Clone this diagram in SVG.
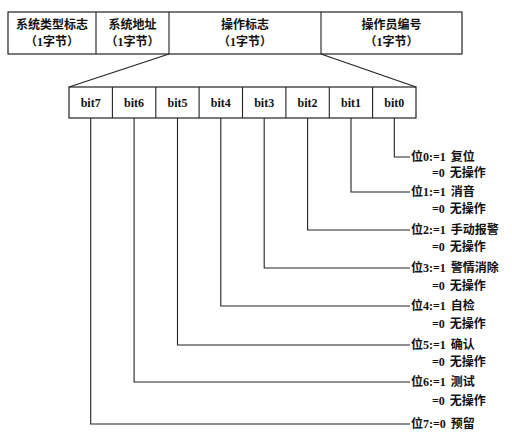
<svg xmlns="http://www.w3.org/2000/svg" width="512" height="440" viewBox="0 0 512 440">
<style>
.box{fill:#fff;stroke:#222;stroke-width:1.2}
.ln{fill:none;stroke:#222;stroke-width:1.1}
text{font-family:"Liberation Serif","Noto Sans CJK SC",serif;font-size:12px;font-weight:bold;fill:#111}
.c{text-anchor:middle}
</style>
<rect width="512" height="440" fill="#fff"/>
<g id="header">
<rect class="box" x="8" y="12" width="454" height="42"/>
<line class="ln" x1="96" y1="12" x2="96" y2="54"/>
<line class="ln" x1="169" y1="12" x2="169" y2="54"/>
<line class="ln" x1="321" y1="12" x2="321" y2="54"/>
</g>
<g id="f1"><text class="c" x="52" y="29">系统类型标志</text><text class="c" x="52" y="46">（1字节）</text></g>
<g id="f2"><text class="c" x="132.5" y="29">系统地址</text><text class="c" x="132.5" y="46">（1字节）</text></g>
<g id="f3"><text class="c" x="245" y="29">操作标志</text><text class="c" x="245" y="46">（1字节）</text></g>
<g id="f4"><text class="c" x="391.5" y="29">操作员编号</text><text class="c" x="391.5" y="46">（1字节）</text></g>
<g id="bits">
<rect class="box" x="69" y="87" width="347" height="31"/>
<line class="ln" x1="112.4" y1="87" x2="112.4" y2="118"/>
<line class="ln" x1="155.8" y1="87" x2="155.8" y2="118"/>
<line class="ln" x1="199.1" y1="87" x2="199.1" y2="118"/>
<line class="ln" x1="242.5" y1="87" x2="242.5" y2="118"/>
<line class="ln" x1="285.9" y1="87" x2="285.9" y2="118"/>
<line class="ln" x1="329.3" y1="87" x2="329.3" y2="118"/>
<line class="ln" x1="372.6" y1="87" x2="372.6" y2="118"/>
<text class="c" x="90.7" y="107">bit7</text>
<text class="c" x="134.1" y="107">bit6</text>
<text class="c" x="177.5" y="107">bit5</text>
<text class="c" x="220.8" y="107">bit4</text>
<text class="c" x="264.2" y="107">bit3</text>
<text class="c" x="307.6" y="107">bit2</text>
<text class="c" x="351" y="107">bit1</text>
<text class="c" x="394.3" y="107">bit0</text>
</g>
<g id="connectors">
<line class="ln" x1="169" y1="54" x2="69" y2="87"/>
<line class="ln" x1="321" y1="54" x2="416" y2="87"/>
<polyline class="ln" points="394.3,118 394.3,157 410,157"/>
<polyline class="ln" points="351,118 351,192 410,192"/>
<polyline class="ln" points="307.6,118 307.6,230 410,230"/>
<polyline class="ln" points="264.2,118 264.2,268 410,268"/>
<polyline class="ln" points="220.8,118 220.8,306 410,306"/>
<polyline class="ln" points="177.5,118 177.5,345 410,345"/>
<polyline class="ln" points="134.1,118 134.1,382 410,382"/>
<polyline class="ln" points="90.7,118 90.7,424 410,424"/>
</g>
<g id="labels">
<text x="411" y="161">位0:=1 <tspan dx="2">复位</tspan></text><text x="432" y="177">=0 <tspan dx="2">无操作</tspan></text>
<text x="411" y="196">位1:=1 <tspan dx="2">消音</tspan></text><text x="432" y="213">=0 <tspan dx="2">无操作</tspan></text>
<text x="411" y="234">位2:=1 <tspan dx="2">手动报警</tspan></text><text x="432" y="251">=0 <tspan dx="2">无操作</tspan></text>
<text x="411" y="272">位3:=1 <tspan dx="2">警情消除</tspan></text><text x="432" y="290">=0 <tspan dx="2">无操作</tspan></text>
<text x="411" y="310">位4:=1 <tspan dx="2">自检</tspan></text><text x="432" y="328">=0 <tspan dx="2">无操作</tspan></text>
<text x="411" y="349">位5:=1 <tspan dx="2">确认</tspan></text><text x="432" y="366">=0 <tspan dx="2">无操作</tspan></text>
<text x="411" y="386">位6:=1 <tspan dx="2">测试</tspan></text><text x="432" y="405">=0 <tspan dx="2">无操作</tspan></text>
<text x="411" y="428">位7:=0 <tspan dx="2">预留</tspan></text>
</g>
</svg>
